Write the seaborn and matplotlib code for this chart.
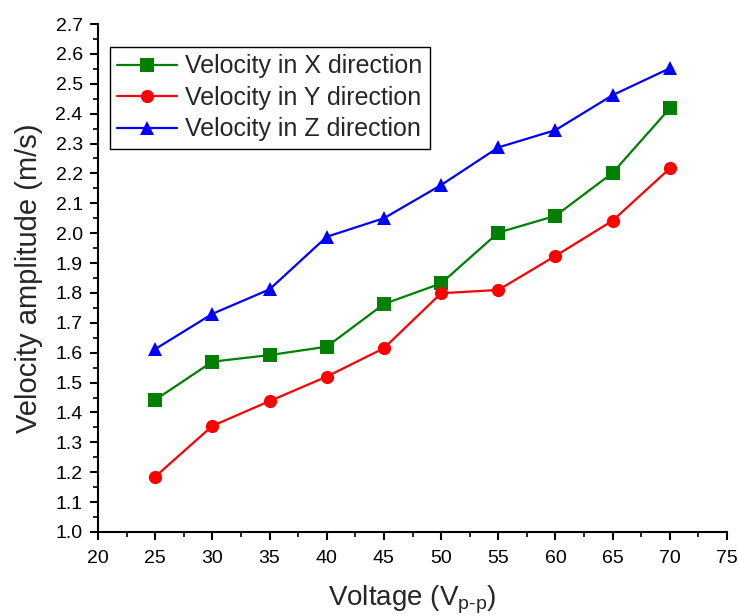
import matplotlib
matplotlib.use("Agg")
import matplotlib.pyplot as plt
import seaborn as sns
import pandas as pd
from matplotlib.ticker import MultipleLocator

voltage = [25, 30, 35, 40, 45, 50, 55, 60, 65, 70]
vel_x = [1.442, 1.570, 1.592, 1.620, 1.763, 1.832, 2.002, 2.058, 2.202, 2.418]
vel_y = [1.185, 1.355, 1.438, 1.520, 1.615, 1.799, 1.810, 1.924, 2.042, 2.217]
vel_z = [1.612, 1.730, 1.812, 1.988, 2.050, 2.161, 2.287, 2.345, 2.462, 2.552]
series_names = ["Velocity in X direction", "Velocity in Y direction", "Velocity in Z direction"]
colors = ["#008000", "#ff0000", "#0000ff"]
markers = ["s", "o", "^"]

sns.set_style("ticks")
plt.rcParams["font.family"] = ["Liberation Sans", "DejaVu Sans"]
plt.rcParams["mathtext.fontset"] = "custom"
plt.rcParams["mathtext.rm"] = "Liberation Sans"
plt.rcParams["mathtext.it"] = "Liberation Sans"

df = pd.DataFrame({
    "Voltage": voltage * 3,
    "Velocity": vel_x + vel_y + vel_z,
    "Series": [series_names[0]] * len(voltage) + [series_names[1]] * len(voltage) + [series_names[2]] * len(voltage),
})

fig = plt.figure(figsize=(7.39, 6.16), dpi=100)
ax = fig.add_axes([0.1326, 0.1364, 0.8512, 0.8246])

sns.lineplot(data=df, x="Voltage", y="Velocity", hue="Series", style="Series",
             palette=dict(zip(series_names, colors)),
             markers=dict(zip(series_names, markers)), dashes=False,
             markersize=9.5, markeredgewidth=0, linewidth=1.6, ax=ax)

ax.set_xlim(20, 75)
ax.set_ylim(1.0, 2.7)
ax.xaxis.set_major_locator(MultipleLocator(5))
ax.xaxis.set_minor_locator(MultipleLocator(2.5))
ax.yaxis.set_major_locator(MultipleLocator(0.1))
ax.yaxis.set_minor_locator(MultipleLocator(0.05))
ax.yaxis.set_major_formatter(matplotlib.ticker.FormatStrFormatter("%.1f"))
for s in ["top", "right"]:
    ax.spines[s].set_visible(False)
for s in ["left", "bottom"]:
    ax.spines[s].set_linewidth(1.5)
    ax.spines[s].set_color("black")
ax.tick_params(which="major", direction="out", length=6, width=1.5, labelsize=14,
               colors="black", pad=5)
ax.tick_params(axis="x", which="major", pad=7)
ax.tick_params(which="minor", direction="out", length=3.5, width=1.2, colors="black")

ax.set_xlabel(r"Voltage (V$_{\mathrm{p\text{-}p}}$)", fontsize=20, labelpad=12)
ax.set_ylabel("Velocity amplitude (m/s)", fontsize=21, labelpad=9)

leg = ax.legend(loc="upper left", bbox_to_anchor=(0.019, 0.955), fontsize=18,
                frameon=True, fancybox=False, edgecolor="black", framealpha=1,
                handlelength=2.4, borderpad=0.3, labelspacing=0.3, handletextpad=0.3,
                borderaxespad=0)
leg.get_frame().set_linewidth(1.0)

fig.savefig("out.png", dpi=100)
